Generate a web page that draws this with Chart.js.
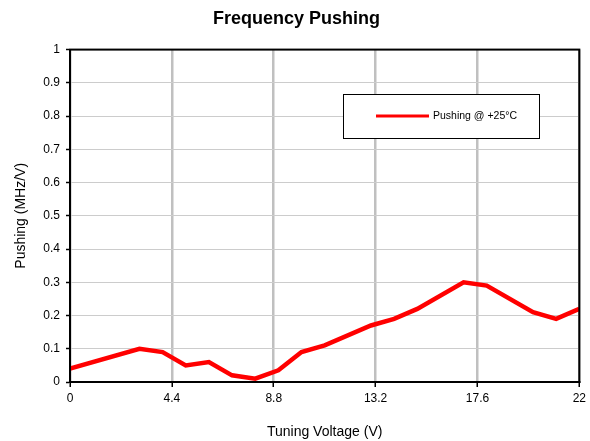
<!DOCTYPE html>
<html>
<head>
<meta charset="utf-8">
<script src="https://cdn.jsdelivr.net/npm/chart.js@4"></script>
<style>
  html, body { margin: 0; padding: 0; background: #fff; }
  #wrap { width: 590px; height: 441px; }
</style>
</head>
<body>
<div id="wrap"><canvas id="chart"></canvas></div>
<script>
// data
const voltage = [0, 3, 4, 5, 6, 7, 8, 9, 10, 11, 13, 14, 15, 17, 18, 20, 21, 22];
const pushing = [0.04, 0.10, 0.09, 0.05, 0.06, 0.02, 0.01, 0.035, 0.09, 0.11, 0.17, 0.19, 0.22, 0.30, 0.29, 0.21, 0.19, 0.22];
const seriesLabel = 'Pushing @ +25°C';
const xStep = 4.4;
const yStep = 0.1;

const FONT = "'Liberation Sans', Arial, sans-serif";

// black frame round the plot + legend box inside it
const framePlugin = {
    id: 'frame',
    afterDraw(chart) {
        const { ctx, chartArea: a } = chart;
        ctx.save();
        ctx.strokeStyle = '#000';
        ctx.lineWidth = 2;
        ctx.strokeRect(a.left, a.top, a.right - a.left, a.bottom - a.top);

        // legend
        const bx = 343.5, by = 94.5, bw = 196, bh = 44;
        ctx.fillStyle = '#fff';
        ctx.fillRect(bx, by, bw, bh);
        ctx.lineWidth = 1;
        ctx.strokeRect(bx, by, bw, bh);
        ctx.strokeStyle = '#ff0000';
        ctx.lineWidth = 3;
        ctx.beginPath();
        ctx.moveTo(376, 116);
        ctx.lineTo(429, 116);
        ctx.stroke();
        ctx.fillStyle = '#000';
        ctx.font = '10.5px ' + FONT;
        ctx.textBaseline = 'middle';
        ctx.fillText(seriesLabel, 433, 116);
        ctx.restore();
    }
};

new Chart(document.getElementById('chart'), {
    type: 'line',
    data: {
        datasets: [{
            label: seriesLabel,
            data: voltage.map((v, i) => ({ x: v, y: pushing[i] })),
            borderColor: '#ff0000',
            borderWidth: 4.5,
            pointRadius: 0,
            tension: 0,
            fill: false
        }]
    },
    options: {
        responsive: true,
        maintainAspectRatio: false,
        animation: false,
        layout: { padding: { top: 0, right: 10, bottom: 0, left: 13 } },
        plugins: {
            legend: { display: false },
            tooltip: { enabled: false },
            title: {
                display: true,
                text: 'Frequency Pushing',
                color: '#000',
                font: { size: 18, weight: 'bold', family: FONT },
                padding: { top: 8, bottom: 20 }
            }
        },
        scales: {
            x: {
                type: 'linear',
                min: 0, max: 22,
                ticks: {
                    stepSize: xStep,
                    color: '#000',
                    font: { size: 12, family: FONT },
                    padding: 4,
                    maxRotation: 0,
                    callback: v => +v.toFixed(1)
                },
                grid: {
                    color: '#c0c0c0',
                    lineWidth: 2.5,
                    tickColor: '#000',
                    tickLength: 5,
                    tickWidth: 1.5
                },
                border: { color: '#000', width: 2 },
                title: {
                    display: true,
                    text: 'Tuning Voltage (V)',
                    color: '#000',
                    font: { size: 14, family: FONT },
                    padding: { top: 14, bottom: 0 }
                },
                afterFit: s => { s.height = 59; }
            },
            y: {
                min: 0, max: 1,
                ticks: {
                    stepSize: yStep,
                    color: '#000',
                    font: { size: 12, family: FONT },
                    padding: 6,
                    callback: v => +v.toFixed(1)
                },
                grid: {
                    color: '#cccccc',
                    lineWidth: 1,
                    tickColor: '#000',
                    tickLength: 4,
                    tickWidth: 1.5
                },
                border: { color: '#000', width: 2 },
                title: {
                    display: true,
                    text: 'Pushing (MHz/V)',
                    color: '#000',
                    font: { size: 14, family: FONT },
                    padding: { top: 0, bottom: 6 }
                },
                afterFit: s => { s.width = 57; }
            }
        }
    },
    plugins: [framePlugin]
});
</script>
</body>
</html>
